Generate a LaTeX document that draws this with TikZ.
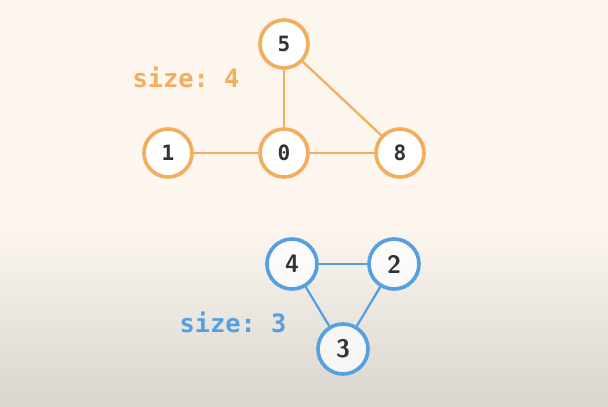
\documentclass[tikz,border=0pt]{standalone}
\usepackage{fontspec}
\setmonofont{DejaVu Sans Mono}
\usepackage{tikz}
\usetikzlibrary{positioning}
\definecolor{cream}{HTML}{FCF6EF}
\definecolor{floorgray}{HTML}{D9D5CF}
\definecolor{setorange}{HTML}{F2AE5E}
\definecolor{setblue}{HTML}{55A0E2}
\definecolor{digitgray}{HTML}{333333}
\tikzset{
  orangenode/.style={circle, minimum size=1.2cm, inner sep=0pt, line width=2.6pt, draw=setorange, fill=white, text=digitgray, font=\ttfamily\bfseries\fontsize{15}{18}\selectfont},
  bluenode/.style={circle, minimum size=1.25cm, inner sep=0pt, line width=2.6pt, draw=setblue, fill=white, fill opacity=0.75, text opacity=1, text=digitgray, font=\sffamily\bfseries\fontsize{18}{21}\selectfont},
  orangeedge/.style={setorange, line width=1.6pt},
  blueedge/.style={setblue, line width=1.6pt},
  sizelabel/.style={font=\ttfamily\bfseries\fontsize{18}{21}\selectfont}
}

\begin{document}
\begin{tikzpicture}

    % background
    \fill[cream] (0,0) rectangle (15.2,10.15);
    \shade[top color=cream, bottom color=floorgray] (0,0) rectangle (15.2,4.5);
    \useasboundingbox (0,0) rectangle (15.2,10.15);

    % first set
    \node[orangenode] (n5) at (7.1, 9.05) {5};
    \node[orangenode] (n1) at (4.2, 6.325) {1};
    \node[orangenode] (n0) at (7.1, 6.325) {0};
    \node[orangenode] (n8) at (10.0, 6.325) {8};
    \node[sizelabel, text=setorange] (size4) at (4.65, 8.225) {size: 4};

    \draw[orangeedge] (n1) -- (n0);
    \draw[orangeedge] (n0) -- (n8);
    \draw[orangeedge] (n0) -- (n5);
    \draw[orangeedge] (n5) -- (n8);

    % second set
    \node[bluenode] (n4) at (7.3, 3.55) {4};
    \node[bluenode] (n2) at (9.85, 3.55) {2};
    \node[bluenode] (n3) at (8.575, 1.425) {3};
    \node[sizelabel, text=setblue] (size3) at (5.825, 2.1) {size: 3};

    \draw[blueedge] (n4) -- (n2);
    \draw[blueedge] (n4) -- (n3);
    \draw[blueedge] (n2) -- (n3);

\end{tikzpicture}
\end{document}
